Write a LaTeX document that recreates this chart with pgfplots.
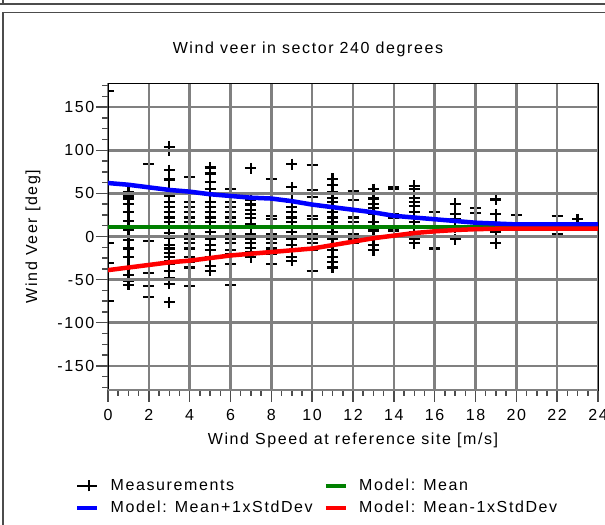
\documentclass[border=0pt]{standalone}
\usepackage{fontspec}
\setmainfont{Liberation Sans}[LetterSpace=10]
\usepackage{pgfplots}
\pgfplotsset{compat=1.18}
\usepackage{pgfplotstable}

% measurements: wind speed [m/s], veer [deg]
\pgfplotstableread{
w v
0 169
0 -8
0 -31
0 -75
1 52
1 47
1 44
1 38
1 28
1 18
1 8
1 -4
1 -14
1 -24
1 -35
1 -45
1 -51
1 -56
2 84
2 -5
2 -42
2 -57
2 -70
3 104
3 100
3 77
3 66
3 55
3 47
3 40
3 34
3 28
3 22
3 17
3 10
3 4
3 -2
3 -10
3 -14
3 -19
3 -24
3 -28
3 -32
3 -40
3 -48
3 -55
3 -76
4 69
4 40
4 34
4 28
4 22
4 17
4 3
4 -3
4 -8
4 -14
4 -24
4 -30
4 -36
4 -57
5 80
5 73
5 63
5 55
5 48
5 40
5 34
5 28
5 22
5 17
5 11
5 5
5 -3
5 -10
5 -16
5 -24
5 -34
5 -40
6 55
6 50
6 40
6 34
6 28
6 22
6 17
6 3
6 -3
6 -8
6 -16
6 -20
6 -32
6 -56
7 79
7 42
7 37
7 31
7 26
7 21
7 14
7 3
7 -3
7 -8
7 -13
7 -18
7 -24
8 67
8 24
8 20
8 3
8 -3
8 -8
8 -14
8 -20
8 -32
9 84
9 57
9 49
9 40
9 34
9 28
9 22
9 17
9 10
9 5
9 -3
9 -10
9 -16
9 -24
9 -28
10 83
10 54
10 50
10 46
10 24
10 20
10 3
10 -3
10 -8
10 -16
10 -40
11 67
11 60
11 51
11 45
11 40
11 34
11 28
11 22
11 17
11 11
11 5
11 -3
11 -10
11 -16
11 -24
11 -30
11 -36
12 53
12 49
12 42
12 22
12 17
12 3
12 -3
12 -8
13 55
13 50
13 44
13 38
13 33
13 26
13 17
13 7
13 -1
13 -10
13 -16
14 57
14 55
14 26
14 22
14 7
14 1
15 59
15 55
15 50
15 45
15 40
15 35
15 28
15 22
15 17
15 11
15 5
15 0
15 -3
15 -8
16 28
16 10
16 -14
17 38
17 26
17 20
17 10
17 -3
18 33
18 27
19 43
19 26
19 15
19 5
19 -8
20 25
22 24
22 3
23 20
}\meas

\pgfplotstableread{
w v
0 11
24 11
}\meanline

\pgfplotstableread{
w v
0 62
1 60
2 57
3 54
4 52
5 49
6 47
7 45
8 44
9 41
10 37
11 34
12 31
13 28
14 24
15 22
16 20
17 18
18 16
19 15
20 14
24 14
}\upperline

\pgfplotstableread{
w v
0 -39
1 -36
2 -33
3 -30
4 -28
5 -25
6 -22
7 -20
8 -18
9 -16
10 -14
11 -10
12 -6
13 -2
14 1
15 4
16 6
17 7.5
18 8.5
19 9
20 9
24 9
}\lowerline

\newcommand\cf{\fontsize{16bp}{19bp}\selectfont}

\pgfplotsset{
  common/.style={
    at={(108bp,135bp)}, anchor=south west,
    width=490bp, height=307bp, scale only axis,
    xmin=0, xmax=24, ymin=-178, ymax=178,
  }
}

\begin{document}
\begin{tikzpicture}
\begin{axis}[common, hide axis, clip marker paths=true]
\addplot[only marks, mark=+, mark size=5.5bp, line width=2.2bp, black] table {\meas};
\end{axis}
\begin{axis}[common,
  font=\cf,
  /pgf/number format/assume math mode=true,
  axis line style={black, line width=0.8bp},
  grid=major,
  major grid style={gray, line width=2.6bp},
  xtick={0,2,...,24},
  minor xtick={0,0.5,...,24},
  ytick={-150,-100,...,150},
  minor ytick={-175,-162.5,...,175},
  tick align=outside,
  tick style={gray!60!black, line width=1.5bp},
  major tick length=12bp,
  minor tick length=6bp,
  xtick pos=bottom, ytick pos=left,
  xticklabel style={inner sep=0bp, yshift=-7bp},
  yticklabel style={inner sep=1.5bp},
  extra y ticks={-178},
  extra y tick labels={},
  extra tick style={grid=major, major tick length=0bp},
  title={Wind veer in sector 240 degrees},
  title style={at={(axis description cs:0.408,1.091)}, anchor=center, inner sep=0bp},
  xlabel={Wind Speed at reference site [m/s]},
  xlabel style={at={(axis description cs:0.5,-0.163)}, anchor=center, inner sep=0bp},
  ylabel={Wind Veer [deg]},
  ylabel style={at={(axis description cs:-0.153,0.5)}, anchor=center, inner sep=0bp},
  legend columns=2,
  legend cell align=left,
  legend image code/.code={\draw[#1] (0bp,0bp) -- (20bp,0bp);},
  legend style={at={(axis description cs:-0.0673,-0.287)}, anchor=north west,
    draw=none, fill=none, font=\cf, inner sep=0bp,
    nodes={inner xsep=3bp, inner ysep=0bp, text height=12bp, text depth=3bp},
    column sep=8bp, row sep=7bp},
]
\addlegendimage{black, line width=2bp,
  legend image code/.code={\path (0bp,0bp) -- (20bp,0bp);
    \draw[black, line width=2bp] (12bp,-5.5bp) -- (12bp,5.5bp) (6.5bp,0bp) -- (17.5bp,0bp);}}
\addlegendentry{Measurements}
\addplot[green!50!black, line width=4.5bp] table {\meanline};
\addlegendentry{Model: Mean}
\addplot[blue, line width=4.5bp] table {\upperline};
\addlegendentry{Model: Mean+1xStdDev}
\addplot[red, line width=4.5bp] table {\lowerline};
\addlegendentry{Model: Mean-1xStdDev}
\end{axis}
\draw[black!70, line width=1.5bp] (0bp,521bp) -- (605bp,521bp) (3bp,521bp) -- (3bp,525bp);
\draw[black!70, line width=1.5bp] (3bp,0bp) -- (3bp,512.5bp) -- (605bp,512.5bp);
\pgfresetboundingbox
\path (0bp,0bp) rectangle (605bp,525bp);
\end{tikzpicture}
\end{document}
